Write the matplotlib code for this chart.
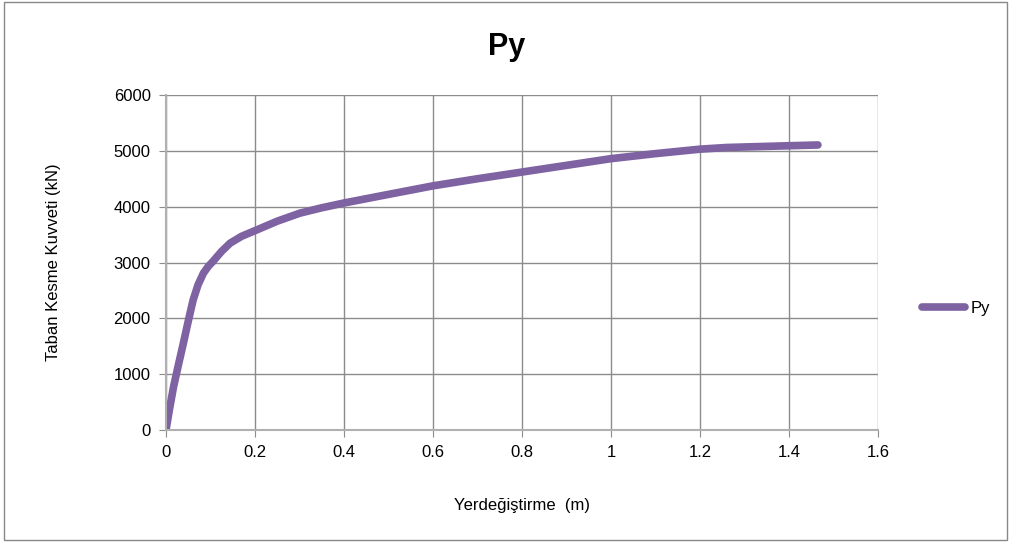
import matplotlib
matplotlib.use("Agg")
import matplotlib.pyplot as plt
from matplotlib.patches import Rectangle

disp = [0.0, 0.008, 0.017, 0.028, 0.039, 0.05, 0.061, 0.072, 0.084, 0.095, 0.106, 0.125, 0.144, 0.17, 0.204, 0.25, 0.301, 0.35, 0.399, 0.5, 0.6, 0.7, 0.8, 0.9, 1.0, 1.1, 1.2, 1.26, 1.35, 1.465]
force = [0, 380, 776, 1170, 1553, 1950, 2330, 2600, 2808, 2930, 3024, 3200, 3346, 3470, 3584, 3740, 3884, 3980, 4064, 4220, 4373, 4500, 4620, 4740, 4860, 4950, 5030, 5060, 5080, 5105]
xticks = [0, 0.2, 0.4, 0.6, 0.8, 1, 1.2, 1.4, 1.6]
xticklabels = ["0", "0.2", "0.4", "0.6", "0.8", "1", "1.2", "1.4", "1.6"]
yticks = [0, 1000, 2000, 3000, 4000, 5000, 6000]

plt.rcParams['font.family'] = ['Liberation Sans', 'DejaVu Sans']
fig = plt.figure(figsize=(10.11, 5.42), dpi=100)
ax = fig.add_axes([166/1011, 1-430/542, (878-166)/1011, (430-95)/542])
color = '#7E62A1'
ax.plot(disp, force, color=color, lw=5.5, solid_capstyle='round', label='Py')
ax.set_xlim(0, 1.6)
ax.set_ylim(0, 6000)
ax.set_xticks(xticks)
ax.set_xticklabels(xticklabels)
ax.set_yticks(yticks)
ax.grid(True, color='#8c8c8c', lw=1)
ax.set_axisbelow(True)
for s in ['top', 'right']:
    ax.spines[s].set_visible(False)
for s in ['left', 'bottom']:
    ax.spines[s].set_color('#b0b0b0')
    ax.spines[s].set_linewidth(1.5)
ax.tick_params(axis='both', labelsize=12, length=5, color='#8c8c8c', pad=6, direction='out')
ax.set_xlabel('Yerdeğiştirme  (m)', fontsize=12, labelpad=27)
ax.set_ylabel('Taban Kesme Kuvveti (kN)', fontsize=12, labelpad=38)
fig.text(507/1011, 1-47/542, 'Py', fontsize=22, fontweight='bold', ha='center', va='center')
fig.legend(loc='center left', bbox_to_anchor=(907/1011, 1-308/542), frameon=False, fontsize=12, handlelength=2.6, handletextpad=0.3)
fig.patches.append(Rectangle((0.004, 0.004), 0.992, 0.992, transform=fig.transFigure, fill=False, edgecolor='#888888', lw=1))
fig.savefig('out.png', dpi=100)
